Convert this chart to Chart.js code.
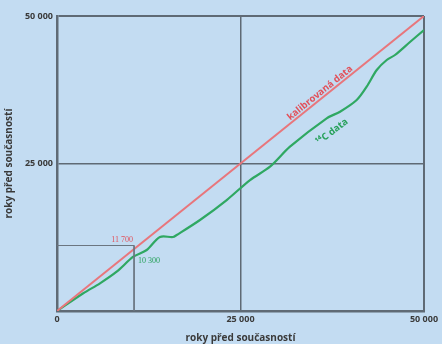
<!DOCTYPE html>
<html>
<head>
<meta charset="utf-8">
<script src="https://cdn.jsdelivr.net/npm/chart.js@4"></script>
<style>
  html, body { margin: 0; padding: 0; background: #c3dcf2; }
  #wrap { width: 442px; height: 344px; }
</style>
</head>
<body>
<div id="wrap"><canvas id="myChart" width="442" height="344"></canvas></div>
<script>
// calibrated line (1:1)
const calX = [0, 50000];
const calY = [0, 50000];

// radiocarbon curve
const c14X = [0, 3580, 5860, 8130, 10400, 12220, 14030, 15800, 16310, 19480, 23120, 26300, 29020, 31740, 36740, 38560, 40830, 42190, 43560, 44920, 46050, 48090, 50000];
const c14Y = [0, 3000, 4690, 6660, 9200, 10340, 12540, 12540, 12880, 15420, 18810, 22200, 24460, 27850, 32660, 33780, 35760, 38020, 40850, 42540, 43390, 45590, 47630];

// reference lines to the example point
const markX = [0, 10500, 10500];
const markY = [11100, 11100, 0];

const tickValues = [0, 25000, 50000];
const axisTitle = "roky před současností";

const labels = [
  { text: "11 700", x: 10350, y: 12030, color: "#e2505a", font: "8px 'Liberation Serif'", align: "right", rot: 0 },
  { text: "10 300", x: 11030, y: 8470, color: "#27a05a", font: "8px 'Liberation Serif'", align: "left", rot: 0 },
  { text: "kalibrovaná data", x: 35830, y: 36950, color: "#e2505a", font: "bold 9.5px 'Open Sans'", align: "center", rot: -38.8 },
  { text: "¹⁴C data", x: 37470, y: 30340, color: "#27a05a", font: "bold 9.5px 'Open Sans'", align: "center", rot: -37 },
];

function fmt(v) {
  return String(v).replace(/\B(?=(\d{3})+(?!\d))/g, " ");
}
function pts(xs, ys) {
  return xs.map((x, i) => ({ x: x, y: ys[i] }));
}

const lineCol = "#5f6a75";
const textCol = "#3a3a3a";

const bgPlugin = {
  id: "bg",
  beforeDraw(chart) {
    const c = chart.ctx;
    c.save();
    c.fillStyle = "#c3dcf2";
    c.fillRect(0, 0, chart.width, chart.height);
    c.restore();
  },
};

const textPlugin = {
  id: "texts",
  afterDatasetsDraw(chart) {
    const c = chart.ctx;
    const sx = chart.scales.x, sy = chart.scales.y;
    labels.forEach((l) => {
      c.save();
      c.translate(sx.getPixelForValue(l.x), sy.getPixelForValue(l.y));
      c.rotate((l.rot * Math.PI) / 180);
      c.font = l.font;
      c.fillStyle = l.color;
      c.textAlign = l.align;
      c.textBaseline = "middle";
      c.fillText(l.text, 0, 0);
      c.restore();
    });
  },
};

const ctx = document.getElementById("myChart");

new Chart(ctx, {
  type: "line",
  data: {
    datasets: [
      {
        label: "mark",
        data: pts(markX, markY),
        borderColor: "#6b7580",
        borderWidth: 1,
        pointRadius: 0,
      },
      {
        label: "kalibrovaná data",
        data: pts(calX, calY),
        borderColor: "#e8767c",
        borderWidth: 2,
        pointRadius: 0,
      },
      {
        label: "14C data",
        data: pts(c14X, c14Y),
        borderColor: "#2fa862",
        borderWidth: 2.2,
        pointRadius: 0,
        tension: 0.3,
      },
    ],
  },
  options: {
    responsive: false,
    animation: false,
    devicePixelRatio: 1,
    layout: { padding: { top: 16, right: 18, left: 0, bottom: 0 } },
    plugins: { legend: { display: false }, tooltip: { enabled: false } },
    scales: {
      x: {
        type: "linear",
        min: 0,
        max: 50000,
        afterBuildTicks: (s) => { s.ticks = tickValues.map((v) => ({ value: v })); },
        afterFit: (s) => { s.height = 33; },
        ticks: {
          callback: (v) => fmt(v),
          color: textCol,
          font: { family: "Open Sans", size: 9, weight: "bold" },
          padding: 3,
          maxRotation: 0,
        },
        grid: {
          drawTicks: false,
          color: lineCol,
          lineWidth: (c) => (c.tick && c.tick.value === 25000 ? 1.5 : 2),
        },
        border: { color: lineCol, width: 2.5 },
        title: {
          display: true,
          text: axisTitle,
          color: textCol,
          font: { family: "Open Sans", size: 10, weight: "bold" },
          padding: { top: 0, bottom: 0 },
        },
      },
      y: {
        type: "linear",
        min: 0,
        max: 50000,
        afterBuildTicks: (s) => { s.ticks = tickValues.map((v) => ({ value: v })); },
        afterFit: (s) => { s.width = 57; },
        ticks: {
          callback: (v) => (v === 0 ? "" : fmt(v)),
          color: textCol,
          font: { family: "Open Sans", size: 9, weight: "bold" },
          padding: 4,
        },
        grid: {
          drawTicks: false,
          color: lineCol,
          lineWidth: (c) => (c.tick && c.tick.value === 25000 ? 1.5 : 2),
        },
        border: { color: lineCol, width: 2.5 },
        title: {
          display: true,
          text: axisTitle,
          color: textCol,
          font: { family: "Open Sans", size: 10, weight: "bold" },
          padding: { top: 3, bottom: 0 },
        },
      },
    },
  },
  plugins: [bgPlugin, textPlugin],
});
</script>
</body>
</html>
